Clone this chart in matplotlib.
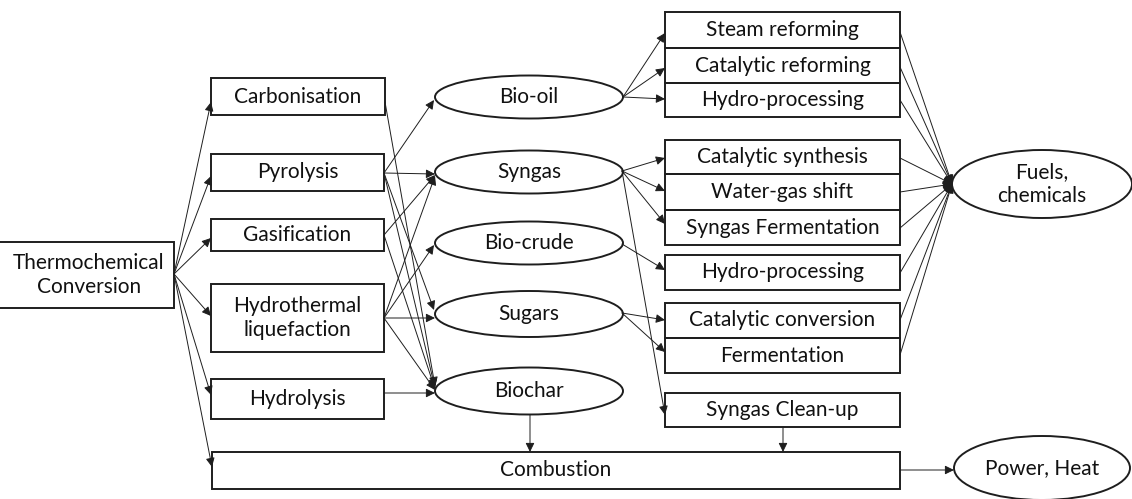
"""Thermochemical conversion routes flow diagram."""

import matplotlib.pyplot as plt
from matplotlib.patches import Ellipse, FancyArrowPatch, Rectangle

plt.rcParams["font.family"] = ["Lato", "DejaVu Sans"]

# canvas size in pixels, the diagram is laid out in pixel units
W, H = 1132, 499

# rectangular nodes: label, (x0, y0, x1, y1)
box_labels = ["Thermochemical\nConversion", "Carbonisation", "Pyrolysis", "Gasification",
              "Hydrothermal\nliquefaction", "Hydrolysis", "Combustion",
              "Steam reforming", "Catalytic reforming", "Hydro-processing",
              "Catalytic synthesis", "Water-gas shift", "Syngas Fermentation",
              "Hydro-processing", "Catalytic conversion", "Fermentation", "Syngas Clean-up"]
box_extents = [(-4, 242, 174, 308), (211, 78, 385, 115), (211, 154, 384, 191),
               (211, 219, 384, 251), (211, 284, 384, 352), (211, 379, 384, 419),
               (212, 452, 900, 489),
               (665, 12, 900, 48), (665, 48, 900, 83), (665, 83, 900, 117),
               (665, 140, 900, 174), (665, 174, 900, 210), (665, 210, 900, 245),
               (665, 255, 900, 290), (665, 303, 900, 338), (665, 338, 900, 373),
               (665, 393, 900, 427)]

# elliptical nodes: label, (cx, cy, width, height)
oval_labels = ["Bio-oil", "Syngas", "Bio-crude", "Sugars", "Biochar",
               "Fuels,\nchemicals", "Power, Heat"]
oval_extents = [(529, 97, 188, 43), (529, 172, 188, 43), (529, 243, 188, 43),
                (529, 314, 188, 46), (529, 391, 188, 47),
                (1042, 184, 180, 68), (1042, 468, 176, 64)]

# connections: (from point, to point)
arrows = [
    # thermochemical conversion fan-out
    ((174, 274), (211, 102)), ((174, 274), (211, 176)), ((174, 274), (211, 238)),
    ((174, 274), (211, 316)), ((174, 274), (211, 395)), ((174, 274), (212, 467)),
    # processes to intermediates
    ((385, 102), (435, 386)),
    ((384, 173), (434, 100)), ((384, 173), (435, 174)), ((384, 173), (434, 310)),
    ((384, 173), (435, 388)),
    ((384, 235), (435, 175)), ((384, 235), (435, 389)),
    ((384, 318), (435, 176)), ((384, 318), (434, 245)), ((384, 318), (435, 318)),
    ((384, 318), (435, 390)),
    ((384, 393), (435, 393)),
    # intermediates to upgrading
    ((623, 97), (665, 33)), ((623, 97), (665, 68)), ((623, 97), (665, 99)),
    ((622, 171), (665, 158)), ((622, 171), (665, 191)), ((622, 171), (665, 224)),
    ((622, 171), (665, 415)),
    ((622, 244), (665, 270)),
    ((622, 313), (665, 320)), ((622, 313), (665, 352)),
    # to combustion
    ((530, 415), (530, 452)), ((783, 427), (783, 452)),
    ((900, 470), (954, 470)),
    # upgrading to fuels, chemicals
    ((900, 32), (952, 184)), ((900, 67), (952, 184)), ((900, 100), (952, 184)),
    ((900, 158), (952, 184)), ((900, 192), (952, 184)), ((900, 228), (952, 184)),
    ((900, 273), (952, 184)), ((900, 320), (952, 184)), ((900, 355), (952, 184)),
]

INK = "#1e1e1e"
FS = 15


def main() -> None:
    """Draw the diagram."""
    fig = plt.figure(figsize=(W / 100, H / 100), dpi=100)
    ax = fig.add_axes([0, 0, 1, 1])
    ax.set_xlim(0, W)
    ax.set_ylim(H, 0)
    ax.axis("off")

    for label, (x0, y0, x1, y1) in zip(box_labels, box_extents):
        ax.add_patch(Rectangle((x0, y0), x1 - x0, y1 - y0, fill=False,
                               edgecolor=INK, lw=1.4, zorder=2))
        ax.text((x0 + x1) / 2 + (4 if x0 < 0 else 0), (y0 + y1) / 2, label,
                ha="center", va="center", fontsize=FS, color="#111111",
                linespacing=1.3, zorder=3)

    for label, (cx, cy, w, h) in zip(oval_labels, oval_extents):
        ax.add_patch(Ellipse((cx, cy), w, h, fill=False, edgecolor=INK, lw=1.4, zorder=2))
        ax.text(cx, cy, label, ha="center", va="center", fontsize=FS,
                color="#111111", linespacing=1.3, zorder=3)

    for start, end in arrows:
        ax.add_patch(FancyArrowPatch(start, end, arrowstyle="-|>,head_length=0.45,head_width=0.22",
                                     mutation_scale=12, lw=0.7, color=INK,
                                     shrinkA=0, shrinkB=0, zorder=1))

    fig.savefig("out.png", dpi=100, facecolor="white")


if __name__ == "__main__":
    main()
